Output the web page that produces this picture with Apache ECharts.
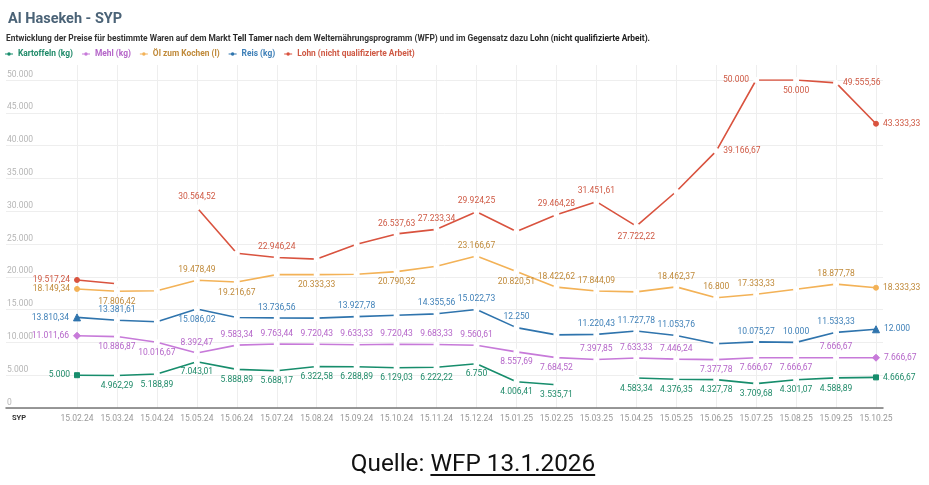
<!DOCTYPE html>
<html>
<head>
<meta charset="utf-8">
<script src="https://cdn.jsdelivr.net/npm/echarts@6/dist/echarts.min.js"></script>
<style>
html,body{margin:0;padding:0;background:#fff;}
#chart{width:929px;height:485px;position:absolute;left:0;top:0;}
#src{position:absolute;left:0;top:448px;width:946px;text-align:center;font-family:Roboto,sans-serif;font-size:24.3px;color:#111;}
#src u{text-decoration-thickness:2px;text-underline-offset:3px;}
</style>
</head>
<body>
<div id="chart"></div>
<div id="src">Quelle: <u>WFP 13.1.2026</u></div>
<script>
const categories = ['15.02.24','15.03.24','15.04.24','15.05.24','15.06.24','15.07.24','15.08.24','15.09.24','15.10.24','15.11.24','15.12.24','15.01.25','15.02.25','15.03.25','15.04.25','15.05.25','15.06.25','15.07.25','15.08.25','15.09.25','15.10.25'];

const kartoffeln = [5000,4962.29,5188.89,7043.01,5888.89,5688.17,6322.58,6288.89,6129.03,6222.22,6750,4006.41,3535.71,null,4583.34,4376.35,4327.78,3709.68,4301.07,4588.89,4666.67];
const mehl = [11011.66,10886.87,10016.67,8392.47,9583.34,9763.44,9720.43,9633.33,9720.43,9683.33,9560.61,8557.69,7684.52,7397.85,7633.33,7446.24,7377.78,7666.67,7666.67,7666.67,7666.67];
const oel = [18149.34,17806.42,17870,19478.49,19216.67,20333,20333.33,20400,20790.32,21620,23166.67,20820.51,18422.62,17844.09,17700,18462.37,16800,17333.33,18100,18877.78,18333.33];
const reis = [13810.34,13381.61,13150,15086.02,13800,13736.56,13700,13927.78,14150,14355.56,15022.73,12250,11150,11220.43,11727.78,11053.76,9800,10075.27,10000,11533.33,12000];
const lohn = [19517.24,18950,null,30564.52,23600,22946.24,22700,24950,26537.63,27233.34,29924.25,26900,29464.28,31451.61,27722.22,33000,39166.67,50000,50000,49555.56,43333.33];

const yTicks = {min:0, max:50000, step:5000};

// label placement per point: L left, R right, T top, B bottom, - none
const labelPlan = {
  k: 'LBBBBBBBBBBBB-BBBBBBR',
  m: 'LBBTTTTTTTTBBTTTBBBTR',
  o: 'LB-TB-B-B-TBTT-TTT-TR',
  r: 'LT-B-T-T-TTT-TTT-TTTR',
  l: 'L--T-T--TTT-TTB-RLBRR'
};

function fmt(v){
  let s = Math.abs(v).toFixed(2);
  let parts = s.split('.');
  let i = parts[0].replace(/\B(?=(\d{3})+(?!\d))/g,'.');
  let d = parts[1];
  return (v<0?'-':'') + (d==='00' ? i : i + ',' + d);
}

function rgba(hex, a){
  const n = parseInt(hex.slice(1),16);
  return 'rgba(' + ((n>>16)&255) + ',' + ((n>>8)&255) + ',' + (n&255) + ',' + a + ')';
}

const posMap = {L:'left',R:'right',T:'top',B:'bottom'};

function buildData(values, plan, color, lblColor, sym){
  const lastIdx = values.length-1;
  return values.map((v,i)=>{
    if(v===null) return {value:null};
    const c = plan[i];
    const item = {value:v};
    if(c==='-'){
      item.label = {show:false};
    } else {
      item.label = {show:true, position:posMap[c], distance: (c==='L'||c==='R')?4:3, color:lblColor};
    }
    if(i===0 || i===lastIdx){
      item.symbol = sym;
      item.symbolSize = sym==='triangle'?7:(sym==='diamond'?7:5);
      item.itemStyle = {color:color, borderColor:color};
    }
    return item;
  });
}

const seriesDefs = [
  {name:'Kartoffeln (kg)', data:kartoffeln, plan:labelPlan.k, color:'#178d6c', lbl:'#1f8a69', sym:'rect'},
  {name:'Mehl (kg)', data:mehl, plan:labelPlan.m, color:'#c77ad9', lbl:'#b566c9', sym:'diamond'},
  {name:'Öl zum Kochen (l)', data:oel, plan:labelPlan.o, color:'#f3b257', lbl:'#c08a3a', sym:'circle'},
  {name:'Reis (kg)', data:reis, plan:labelPlan.r, color:'#2f74ad', lbl:'#3f80b8', sym:'triangle'},
  {name:'Lohn (nicht qualifizierte Arbeit)', data:lohn, plan:labelPlan.l, color:'#d9533f', lbl:'#cf5a45', sym:'circle'}
];

const chart = echarts.init(document.getElementById('chart'), null, {renderer:'canvas'});
const FONT = 'Roboto, sans-serif';
const legendIcon = 'path://M0,2.4L10,2.4L10,3.6L0,3.6Z M5,0.8A2.2,2.2,0,1,1,4.99,0.8Z';

const option = {
  animation:false,
  textStyle:{fontFamily:FONT},
  title:[
    {text:'Al Hasekeh - SYP', left:8, top:12, padding:0, textStyle:{fontFamily:FONT, fontSize:14.5, fontWeight:'bold', color:'#4b6377'}},
    {text:'Entwicklung der Preise für bestimmte Waren auf dem Markt {b|Tell Tamer} nach dem Welternährungsprogramm (WFP) und im Gegensatz dazu {b|Lohn (nicht qualifizierte Arbeit).}',
     left:6, top:35, padding:0,
     textStyle:{fontFamily:FONT, fontSize:8.4, color:'#333', rich:{b:{fontFamily:FONT, fontSize:8.4, fontWeight:'bold', color:'#222'}}}}
  ],
  legend:{
    left:5, top:50, padding:0, itemWidth:8, itemHeight:5, itemGap:9,
    icon: legendIcon,
    textStyle:{fontFamily:FONT, fontSize:8.4, fontWeight:'bold'},
    data: seriesDefs.map(s=>({name:s.name, textStyle:{color:s.lbl},
      itemStyle:{color:s.color, borderColor:s.color, borderWidth:0, opacity:1}}))
  },
  graphic:[
    {type:'text', left:12, top:414, style:{text:'SYP', font:'bold 7.5px Roboto, sans-serif', fill:'#333'}}
  ],
  grid:[
    {left:6, right:46, top:80, bottom:77},
    {left:77, right:53, top:65, bottom:77},
    {left:77, right:53, top:80, bottom:77}
  ],
  xAxis:[
    {gridIndex:0, type:'value', min:0, max:1, axisLabel:{show:false}, axisTick:{show:false}, splitLine:{show:false},
     axisLine:{show:true, lineStyle:{color:'#777', width:1.5}}},
    {gridIndex:1, type:'category', data:categories, boundaryGap:false,
     axisLine:{show:false}, axisTick:{show:false},
     axisLabel:{interval:0, color:'#999', fontSize:8.5, margin:6, fontFamily:FONT},
     splitLine:{show:true, interval:0, lineStyle:{color:'#eeeeee', width:1}}},
    {gridIndex:2, type:'category', data:categories, boundaryGap:false, show:false}
  ],
  yAxis:[
    {gridIndex:0, type:'value', min:yTicks.min, max:yTicks.max, interval:yTicks.step,
     axisLine:{show:false}, axisTick:{show:false},
     axisLabel:{inside:true, align:'left', verticalAlign:'bottom', margin:1, padding:[0,0,1,0], color:'#b5b5b5', fontSize:8.5, fontFamily:FONT, formatter:fmt},
     splitLine:{show:true, lineStyle:{color:'#eeeeee', width:1}}},
    {gridIndex:1, type:'value', show:false, splitLine:{show:false}},
    {gridIndex:2, type:'value', min:yTicks.min, max:yTicks.max, interval:yTicks.step, show:false, splitLine:{show:false}}
  ],
  series: seriesDefs.map(s=>({
    name:s.name, type:'line', xAxisIndex:2, yAxisIndex:2,
    data: buildData(s.data, s.plan, s.color, s.lbl, s.sym),
    connectNulls:false,
    color:s.color,
    lineStyle:{color:s.color, width:1.6},
    symbol:'emptyCircle', symbolSize:4,
    itemStyle:{color:'#fff', borderColor:rgba(s.color,0.4), borderWidth:1},
    label:{show:true, fontSize:8.5, fontFamily:FONT, color:s.lbl, formatter:p=>fmt(p.value)},
    emphasis:{disabled:true},
    z:3
  }))
};
chart.setOption(option);
</script>
</body>
</html>
